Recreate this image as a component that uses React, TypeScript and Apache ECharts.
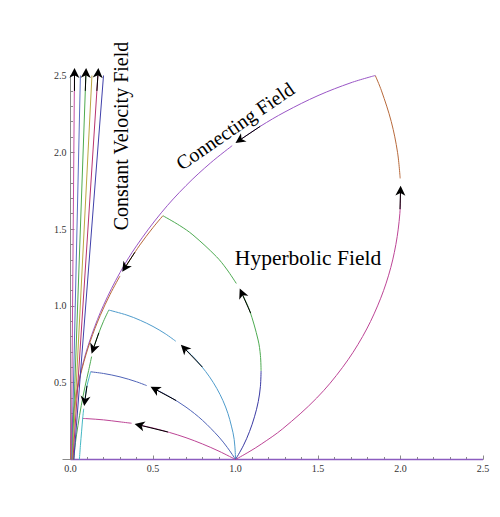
import React, { useEffect, useRef } from "react";
import * as echarts from "echarts";

type P = [number, number];

// ---- Hyperbolic field arcs (start at (1,0)) ----
const hyp1A: P[] = [[1, 0], [0.9, 0.054], [0.8, 0.101], [0.7, 0.142], [0.6, 0.176], [0.5, 0.205], [0.41, 0.226]];
const hyp1B: P[] = [[0.37, 0.236], [0.3, 0.245], [0.2, 0.258], [0.1, 0.266], [0.074, 0.267]];
const hyp2A: P[] = [[1, 0], [0.98, 0.033], [0.95, 0.079], [0.9, 0.146], [0.8, 0.255], [0.7, 0.341], [0.6, 0.409], [0.52, 0.454]];
const hyp2B: P[] = [[0.462, 0.481], [0.4, 0.506], [0.3, 0.538], [0.2, 0.56], [0.122, 0.571]];
const hyp3A: P[] = [[1, 0], [0.996, 0.087], [0.985, 0.174], [0.94, 0.342], [0.866, 0.5], [0.766, 0.643], [0.69, 0.724]];
const hyp3B: P[] = [[0.638, 0.77], [0.574, 0.819], [0.5, 0.866], [0.423, 0.906], [0.342, 0.94], [0.232, 0.973]];
const hyp4Low: P[] = [[1, 0], [1.047, 0.089], [1.085, 0.182], [1.115, 0.278], [1.138, 0.377], [1.151, 0.476], [1.155, 0.577]];
const hyp4A: P[] = [[1.155, 0.577], [1.151, 0.678], [1.137, 0.778], [1.085, 0.972], [1.038, 1.083]];
const hyp4B: P[] = [[1.005, 1.146], [0.946, 1.24], [0.885, 1.32], [0.742, 1.462], [0.662, 1.523], [0.56, 1.587]];
const hyp5Low: P[] = [[1, 0], [1.082, 0.05], [1.156, 0.1], [1.286, 0.2], [1.492, 0.4], [1.649, 0.6], [1.77, 0.8], [1.861, 1.0], [1.928, 1.2], [1.972, 1.4], [1.996, 1.6], [2.0, 1.74]];
const hyp5Top: P[] = [[1.998, 1.83], [1.982, 2.0], [1.944, 2.2], [1.885, 2.4], [1.847, 2.5]];

// ---- Connecting field arcs (towards the origin) ----
const conn5A: P[] = [[1.847, 2.5], [1.7, 2.453], [1.5, 2.369], [1.3, 2.263], [1.15, 2.169], [1.025, 2.079]];
const conn5B: P[] = [[0.98, 2.043], [0.85, 1.932], [0.7, 1.783], [0.55, 1.606], [0.4, 1.391], [0.3, 1.217], [0.2, 1.004], [0.13, 0.815], [0.08, 0.643], [0.04, 0.456], [0.015, 0.28], [0.004, 0.145], [0, 0]];
const conn4A: P[] = [[0.56, 1.587], [0.5, 1.51], [0.42, 1.396], [0.33, 1.249]];
const conn4B: P[] = [[0.3, 1.195], [0.24, 1.075], [0.18, 0.937], [0.12, 0.77], [0.07, 0.591], [0.035, 0.419], [0.012, 0.246], [0.003, 0.123], [0, 0]];
const conn3A: P[] = [[0.232, 0.973], [0.2, 0.9], [0.172, 0.825], [0.15, 0.76], [0.138, 0.72]];
const conn3B: P[] = [[0.128, 0.67], [0.11, 0.58], [0.088, 0.475], [0.065, 0.35], [0.045, 0.22], [0.03, 0.11], [0.02, 0]];
const conn2A: P[] = [[0.122, 0.571], [0.112, 0.53], [0.1, 0.48], [0.092, 0.43], [0.087, 0.38]];
const conn2B: P[] = [[0.08, 0.33], [0.074, 0.27], [0.067, 0.18], [0.06, 0.09], [0.054, 0]];

// ---- Constant velocity field lines ----
const cvBottomX = [0.005, 0.008, 0.01, 0.012, 0.015, 0.02];
const cvTopX = [0.024, 0.06, 0.093, 0.13, 0.166, 0.2];
const cvTopY = 2.5;
const cvColors = ["#c24ea4", "#5a6cc2", "#4eaa4e", "#bba640", "#b8336e", "#4040aa"];

// x-axis boundary line
const baseLine: P[] = [[0, 0], [2.5, 0]];

// ---- Arrows (tail -> head) ----
const arrowTail: P[] = [
  [0.59, 0.179], [0.64, 0.384], [0.799, 0.602], [1.092, 0.953], [1.997, 1.63],
  [1.15, 2.169], [0.39, 1.349], [0.172, 0.825], [0.1, 0.48],
  [0.0232, 2.4], [0.0897, 2.4], [0.16, 2.4],
];
const arrowHead: P[] = [
  [0.418, 0.224], [0.512, 0.458], [0.69, 0.724], [1.038, 1.083], [2.0, 1.75],
  [1.025, 2.079], [0.33, 1.249], [0.138, 0.72], [0.087, 0.38],
  [0.0241, 2.517], [0.0936, 2.517], [0.167, 2.517],
];

// tick labels
const xTicks = [0, 0.5, 1.0, 1.5, 2.0, 2.5];
const yTicks = [0, 0.5, 1.0, 1.5, 2.0, 2.5];

const SERIF = "'Liberation Serif', 'Times New Roman', 'DejaVu Serif', serif";
const AXIS = "#8a8a8a";

const C = {
  magenta: "#bd4596",
  blue: "#5064b8",
  steel: "#4f9ccc",
  navy: "#3a3aa4",
  green: "#4eab52",
  brown: "#b86a3c",
  purple: "#9a56c6",
  cyan: "#44b8c4",
  base: "#8c5cc0",
};

function curve(name: string, data: P[], color: string, smooth: number | boolean = 0.35, width = 1) {
  return {
    type: "line",
    name,
    data,
    smooth,
    showSymbol: false,
    symbol: "none",
    clip: false,
    silent: true,
    z: 2,
    lineStyle: { color, width },
  };
}

export default function App() {
  const ref = useRef<HTMLDivElement>(null);
  useEffect(() => {
    const chart = echarts.init(ref.current!, null, { renderer: "svg" });
    const series: any[] = [
      curve("base", baseLine, C.base, false, 1.6),
      curve("h1a", hyp1A, C.magenta),
      curve("h1b", hyp1B, C.magenta),
      curve("h2a", hyp2A, C.blue),
      curve("h2b", hyp2B, C.blue),
      curve("h3a", hyp3A, C.steel),
      curve("h3b", hyp3B, C.steel),
      curve("h4l", hyp4Low, C.navy),
      curve("h4a", hyp4A, C.green),
      curve("h4b", hyp4B, C.green),
      curve("h5l", hyp5Low, C.magenta),
      curve("h5t", hyp5Top, C.brown),
      curve("c5a", conn5A, C.purple),
      curve("c5b", conn5B, C.purple),
      curve("c4a", conn4A, C.brown),
      curve("c4b", conn4B, C.brown),
      curve("c3a", conn3A, C.green),
      curve("c3b", conn3B, C.green),
      curve("c2a", conn2A, C.cyan),
      curve("c2b", conn2B, C.cyan),
      ...cvBottomX.map((b, i) =>
        curve("cv" + i, [[b, 0], [cvTopX[i], cvTopY]] as P[], cvColors[i], false)
      ),
      {
        type: "lines",
        coordinateSystem: "cartesian2d",
        clip: false,
        silent: true,
        z: 5,
        symbol: ["none", "path://M0,0 L4,11 L0,8 L-4,11 Z"],
        symbolSize: 10,
        lineStyle: { color: "#000", width: 1, opacity: 1, curveness: 0 },
        data: arrowTail.map((t, i) => ({ coords: [t, arrowHead[i]] })),
      },
    ];

    const axisCommon = (ticks: number[]) => ({
      type: "value",
      min: ticks[0],
      max: ticks[ticks.length - 1],
      interval: ticks[1] - ticks[0],
      splitLine: { show: false },
      minorSplitLine: { show: false },
      axisLine: { show: true, onZero: false, lineStyle: { color: AXIS, width: 1 } },
      axisTick: { show: true, inside: true, length: 4, lineStyle: { color: AXIS } },
      minorTick: { show: true, splitNumber: 5, length: 2.5, lineStyle: { color: AXIS } },
    });

    chart.setOption({
      animation: false,
      backgroundColor: "#ffffff",
      grid: { left: 70.5, right: 17, top: 75.5, bottom: 57.5, containLabel: false },
      xAxis: {
        ...axisCommon(xTicks),
        axisLabel: {
          margin: 4,
          color: "#333",
          fontSize: 10,
          fontFamily: SERIF,
          formatter: (v: number) => v.toFixed(1),
        },
      },
      yAxis: {
        ...axisCommon(yTicks),
        axisLabel: {
          margin: 4,
          color: "#333",
          fontSize: 10,
          fontFamily: SERIF,
          showMinLabel: false,
          formatter: (v: number) => v.toFixed(1),
        },
      },
      series,
    });

    const o = chart.convertToPixel({ xAxisIndex: 0, yAxisIndex: 0 }, [0, 0]) as number[];
    const textStyle = (text: string, size: number) => ({
      text,
      fontSize: size,
      fontFamily: SERIF,
      fill: "#000",
      align: "center",
      verticalAlign: "middle",
      textAlign: "center",
      textVerticalAlign: "middle",
    });
    chart.setOption({
      graphic: [
        {
          type: "line",
          silent: true,
          shape: { x1: o[0] - 8, y1: o[1], x2: o[0], y2: o[1] },
          style: { stroke: AXIS, lineWidth: 1 },
        },
        {
          type: "text",
          x: 121,
          y: 136,
          rotation: Math.PI / 2,
          style: textStyle("Constant Velocity Field", 20),
        },
        {
          type: "text",
          x: 235,
          y: 126,
          rotation: (34.6 * Math.PI) / 180,
          style: textStyle("Connecting Field", 20),
        },
        {
          type: "text",
          x: 308,
          y: 258,
          style: textStyle("Hyperbolic Field", 21.5),
        },
      ],
    });

    return () => chart.dispose();
  }, []);
  return <div ref={ref} style={{ position: "absolute", left: 0, top: 0, width: 500, height: 517 }} />;
}
